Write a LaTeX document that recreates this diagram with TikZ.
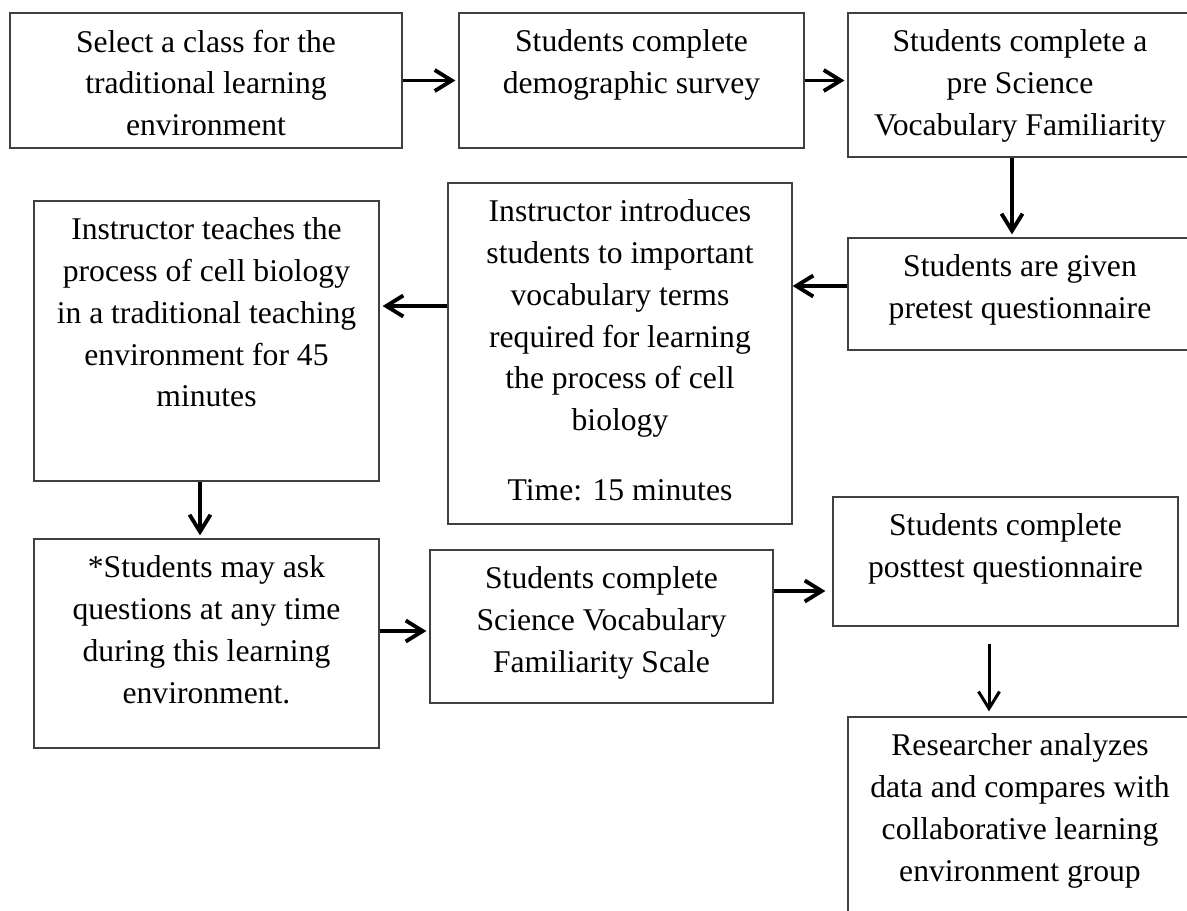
\documentclass[tikz,border=0pt]{standalone}
\usepackage{fontspec}
\setmainfont{Liberation Serif}
\usetikzlibrary{arrows.meta, fit}

\tikzset{
  stepbox/.style={draw=black!75, line width=0.7pt, inner sep=0pt},
  steptext/.style={anchor=north, align=center, inner sep=0pt,
      font=\fontsize{18}{23.8}\selectfont, yshift=-0.34cm},
  steparrow/.style={line width=2.2pt, -{Straight Barb[length=0.34cm, width=0.42cm]}, shorten >=0.06cm}
}

\begin{document}
\begin{tikzpicture}[x=0.02cm, y=-0.02cm]
  \useasboundingbox (0,0) rectangle (1187,910);
  \clip (0,0) rectangle (1187,910);

  % boxes
  \node[stepbox, fit={(10,13) (402,148)}] (select) {};
  \node[stepbox, fit={(459,13) (804,148)}] (survey) {};
  \node[stepbox, fit={(848,13) (1192,157)}] (prevocab) {};
  \node[stepbox, fit={(848,238) (1192,350)}] (pretest) {};
  \node[stepbox, fit={(448,183) (792,524)}] (vocab) {};
  \node[stepbox, fit={(34,201) (379,481)}] (teach) {};
  \node[stepbox, fit={(34,539) (379,748)}] (questions) {};
  \node[stepbox, fit={(430,550) (773,703)}] (scale) {};
  \node[stepbox, fit={(833,497) (1178,626)}] (posttest) {};
  \node[stepbox, fit={(848,717) (1192,960)}] (analyze) {};

  % texts
  \node[steptext] (select-t) at (select.north) {Select a class for the\\traditional learning\\environment};
  \node[steptext] (survey-t) at (survey.north) {Students complete\\demographic survey};
  \node[steptext] (prevocab-t) at (prevocab.north) {Students complete a\\pre Science\\Vocabulary Familiarity};
  \node[steptext] (pretest-t) at (pretest.north) {Students are given\\pretest questionnaire};
  \node[steptext] (vocab-t) at (vocab.north) {Instructor introduces\\students to important\\vocabulary terms\\required for learning\\the process of cell\\biology\\[0.56cm]Time: 15 minutes};
  \node[steptext] (teach-t) at (teach.north) {Instructor teaches the\\process of cell biology\\in a traditional teaching\\environment for 45\\minutes};
  \node[steptext] (questions-t) at (questions.north) {*Students may ask\\questions at any time\\during this learning\\environment.};
  \node[steptext] (scale-t) at (scale.north) {Students complete\\Science Vocabulary\\Familiarity Scale};
  \node[steptext] (posttest-t) at (posttest.north) {Students complete\\posttest questionnaire};
  \node[steptext] (analyze-t) at (analyze.north) {Researcher analyzes\\data and compares with\\collaborative learning\\environment group};

  % arrows
  \draw[steparrow] (select.east) -- (survey.west);
  \draw[steparrow] (survey.east) -- (survey.east -| prevocab.west);
  \draw[steparrow] ([xshift=-0.16cm]prevocab.south) -- ([xshift=-0.16cm]pretest.north);
  \draw[steparrow, shorten >=0pt] ([yshift=0.16cm]pretest.west) -- ([yshift=0.16cm]pretest.west -| vocab.east);
  \draw[steparrow] ([yshift=0.95cm]vocab.west) -- ([yshift=0.95cm]vocab.west -| teach.east);
  \draw[steparrow] ([xshift=-0.13cm]teach.south) -- ([xshift=-0.13cm]teach.south |- questions.north);
  \draw[steparrow] ([yshift=0.25cm]questions.east) -- ([yshift=0.25cm]questions.east -| scale.west);
  \draw[steparrow, shorten >=0.14cm] ([yshift=0.71cm]scale.east) -- ([yshift=0.71cm]scale.east -| posttest.west);
  \draw[steparrow, line width=1.7pt, shorten >=0.1cm] ([xshift=-0.33cm, yshift=-0.34cm]posttest.south) -- ([xshift=-0.33cm]posttest.south |- analyze.north);
\end{tikzpicture}
\end{document}
